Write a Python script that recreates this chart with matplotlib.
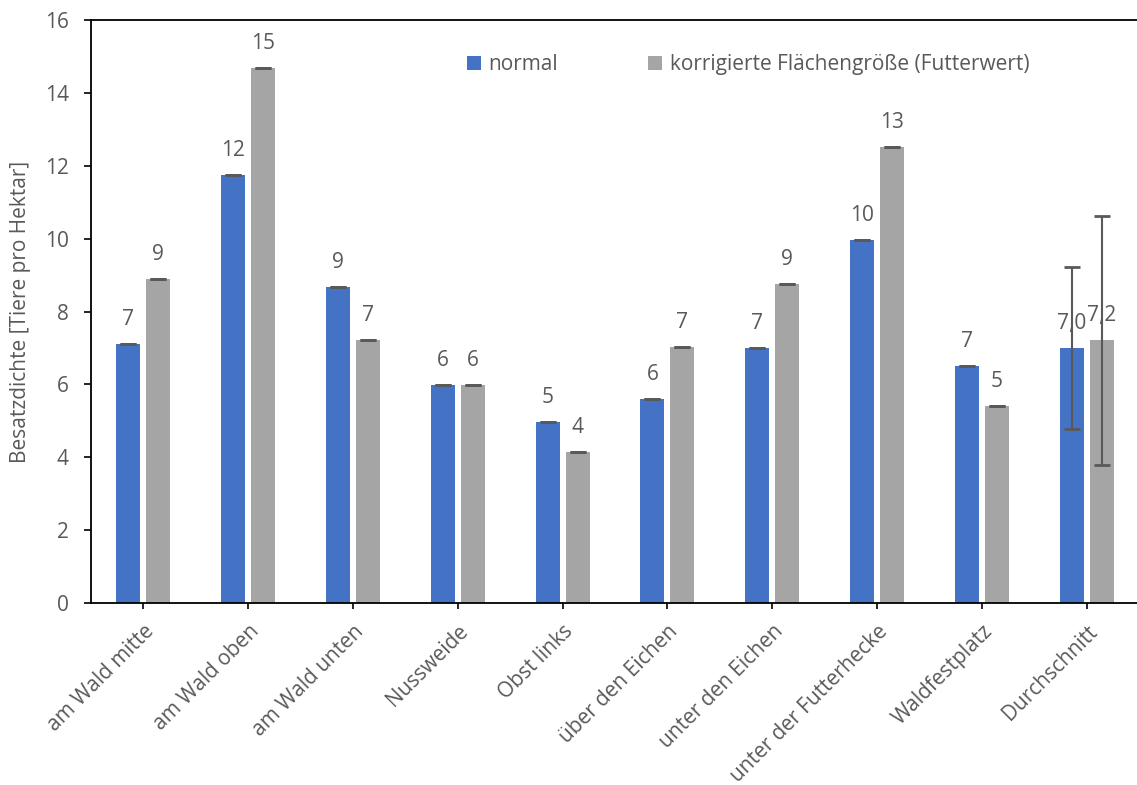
import matplotlib.pyplot as plt
import numpy as np

categories = [
    "am Wald mitte", "am Wald oben", "am Wald unten", "Nussweide", "Obst links",
    "über den Eichen", "unter den Eichen", "unter der Futterhecke", "Waldfestplatz",
    "Durchschnitt",
]
normal = [7.12, 11.75, 8.67, 5.98, 4.97, 5.60, 7.00, 9.96, 6.51, 7.00]
korrigiert = [8.90, 14.68, 7.22, 5.98, 4.14, 7.03, 8.75, 12.52, 5.41, 7.21]
normal_err = [0, 0, 0, 0, 0, 0, 0, 0, 0, 2.22]
korrigiert_err = [0, 0, 0, 0, 0, 0, 0, 0, 0, 3.41]
yticks = [0, 2, 4, 6, 8, 10, 12, 14, 16]

BLUE = "#4472C4"
GREY = "#A5A5A5"
TEXT = "#595959"
ERR = "#595959"

plt.rcParams["font.family"] = ["Open Sans", "DejaVu Sans"]
plt.rcParams["font.size"] = 15

fig = plt.figure(figsize=(11.37, 7.85), dpi=100)
ax = fig.add_axes([91 / 1137, 182 / 785, 1048 / 1137, 583 / 785])

x = np.arange(len(categories))
off = 0.143
w = 0.23

ax.bar(x - off, normal, w, color=BLUE, label="normal", zorder=2)
ax.bar(x + off, korrigiert, w, color=GREY,
       label="korrigierte Flächengröße (Futterwert)", zorder=2)
ax.errorbar(x - off, normal, yerr=normal_err, fmt="none", ecolor=ERR,
            elinewidth=1.5, capsize=6, capthick=2, zorder=4)
ax.errorbar(x + off, korrigiert, yerr=korrigiert_err, fmt="none", ecolor=ERR,
            elinewidth=1.5, capsize=6, capthick=2, zorder=4)


def fmt(v, i):
    if categories[i] == "Durchschnitt":
        return f"{v:.1f}".replace(".", ",")
    return f"{round(v):d}"


for i in range(len(categories)):
    ax.annotate(fmt(normal[i], i), (x[i] - off, normal[i]), xytext=(0, 10),
                textcoords="offset points", ha="center", va="bottom",
                color=TEXT, zorder=3)
    ax.annotate(fmt(korrigiert[i], i), (x[i] + off, korrigiert[i]), xytext=(0, 10),
                textcoords="offset points", ha="center", va="bottom",
                color=TEXT, zorder=3)

ax.set_xlim(-0.5, len(categories) - 0.5)
ax.set_ylim(0, 16)
ax.set_yticks(yticks)
ax.set_xticks(x)
ax.set_xticklabels(categories, rotation=45, ha="right", va="top",
                   rotation_mode="anchor")
ax.tick_params(axis="y", length=5, width=1.2, pad=11, colors="black",
               labelcolor=TEXT)
ax.tick_params(axis="x", length=4, width=1.2, pad=9, colors="black",
               labelcolor=TEXT)
ax.set_ylabel("Besatzdichte [Tiere pro Hektar]", color=TEXT, labelpad=10)

for side in ["left", "bottom", "top"]:
    ax.spines[side].set_linewidth(1.3)
ax.spines["right"].set_visible(False)

ax.legend(loc="center", bbox_to_anchor=(0.627, 0.923), ncol=2, frameon=False,
          handlelength=0.7, handleheight=0.7, handletextpad=0.35,
          columnspacing=4.3, labelcolor=TEXT)

fig.savefig("out.png", dpi=100)
